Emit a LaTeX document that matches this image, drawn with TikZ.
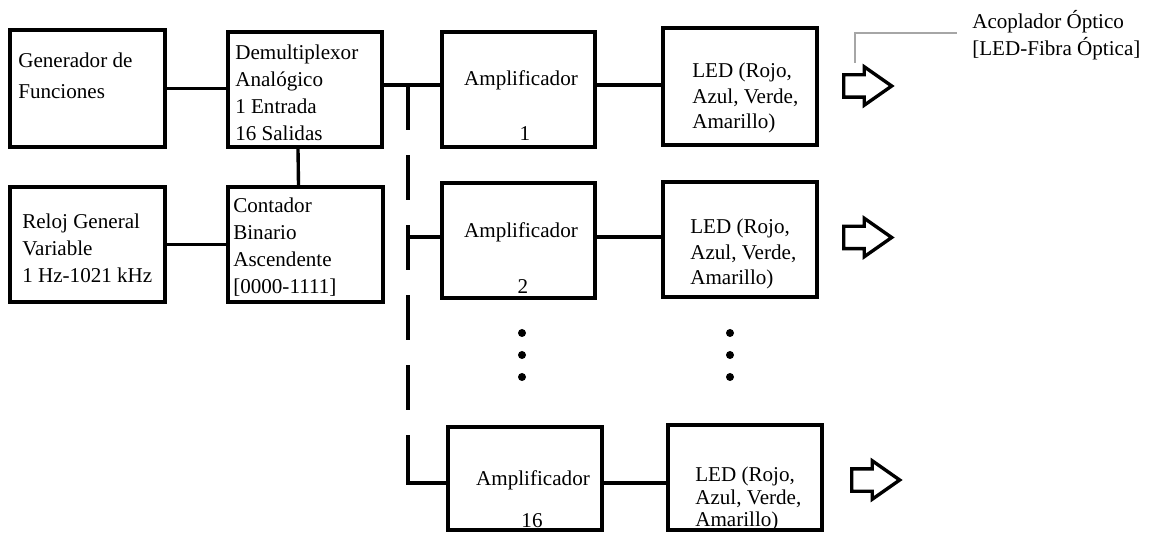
\documentclass[tikz,border=0pt]{standalone}
\usepackage{fontspec}
\setmainfont{Liberation Serif}
\newfontfamily\blkfont{Liberation Serif}
\usetikzlibrary{positioning,shapes.arrows}
\def\px{0.025cm}

\begin{document}
\begin{tikzpicture}[x=0.025cm,y=-0.025cm,
	blk/.style={draw,line width=2.6pt,minimum width=154*\px,minimum height=115*\px,inner sep=0pt},
	txt/.style={align=left,inner sep=0pt,anchor=north west,font=\blkfont\fontsize{15}{19}\selectfont},
	ledtxt/.style={txt,font=\blkfont\fontsize{15}{18}\selectfont},
	ctr/.style={inner sep=0pt,anchor=base,font=\blkfont\fontsize{15}{19}\selectfont},
	wire/.style={line width=2.4pt},
	outarr/.style={single arrow,draw,line width=2.4pt,inner sep=9.5*\px,minimum height=48*\px,
		single arrow head extend=8*\px,single arrow tip angle=70,anchor=tail}]
	\useasboundingbox (0,0) rectangle (1151,543);
	
	% bloques
	\node[blk,minimum width=155*\px,minimum height=117*\px] (gen) at (87.5,88.5) {};
	\node[blk] (demux) at (305,89.5) {};
	\node[blk,minimum width=155*\px] (reloj) at (87.5,244.5) {};
	\node[blk,minimum width=155*\px] (cont) at (305.5,244.5) {};
	\node[blk,minimum width=153*\px] (a1) at (518.5,89.5) {};
	\node[blk,minimum width=153*\px] (a2) at (518.5,240.5) {};
	\node[blk,minimum height=103*\px] (a16) at (525,478.5) {};
	\node[blk,minimum height=117*\px] (l1) at (740,86.5) {};
	\node[blk] (l2) at (740,239.5) {};
	\node[blk,minimum height=105*\px] (l16) at (745,477.5) {};
	
	% textos
	\node[txt] (genT) at (18,53) {Generador de\\[3pt]Funciones};
	\node[txt] (demuxT) at (235,45) {Demultiplexor\\Analógico\\1 Entrada\\16 Salidas};
	\node[txt] (relojT) at (22,214) {Reloj General\\Variable\\1 Hz-1021 kHz};
	\node[txt] (contT) at (233,198) {Contador\\Binario\\Ascendente\\{[0000-1111]}};
	\node[ctr] (a1T) at (521,86) {Amplificador};
	\node[ctr] (a1N) at (525,141) {1};
	\node[ctr] (a2T) at (521,238) {Amplificador};
	\node[ctr] (a2N) at (523,294) {2};
	\node[ctr] (a16T) at (533,485) {Amplificador};
	\node[ctr] (a16N) at (532,527) {16};
	\node[ledtxt] (l1T) at (692,63) {LED (Rojo,\\Azul, Verde,\\Amarillo)};
	\node[ledtxt] (l2T) at (690,219) {LED (Rojo,\\Azul, Verde,\\Amarillo)};
	\node[ledtxt,font=\blkfont\fontsize{15}{16}\selectfont] (l16T) at (695,467) {LED (Rojo,\\Azul, Verde,\\Amarillo)};
	\node[txt] (acop) at (972,10) {Acoplador Óptico\\{[LED-Fibra Óptica]}};
	
	% conexiones
	\coordinate (b1) at (408,85);
	\coordinate (b2) at (408,237);
	\coordinate (bk) at (408,437);
	\coordinate (b16) at (408,483);
	\draw[wire] (gen.east) -- (gen.east -| demux.west);
	\draw[wire] ([xshift=-7*\px]demux.south) -- ([xshift=-7*\px]cont.north);
	\draw[wire] (reloj.east) -- (reloj.east -| cont.west);
	\draw[wire] (demux.east |- b1) -- (a1.west |- b1);
	\draw[wire] (a1.east |- b1) -- (l1.west |- b1);
	\draw[wire,dash pattern=on 1.125cm off 0.625cm] (b1) -- (bk);
	\draw[wire] (bk) -- (b16) -- (b16 -| a16.west);
	\draw[wire] (b2) -- (b2 -| a2.west);
	\draw[wire] (a2.east |- b2) -- (l2.west |- b2);
	\draw[wire] (a16.east |- b16) -- (l16.west |- b16);
	
	% flechas de salida
	\node[outarr] (o1) at (842,86) {};
	\node[outarr] (o2) at (842,237.5) {};
	\node[outarr] (o3) at (850,480) {};
	\coordinate (k1) at (855,63);
	\coordinate (k2) at (957,33);
	\draw[gray!70,line width=1pt] (k1) |- (k2);
	
	% puntos
	\foreach \y in {333,355,377}{
		\fill (522,\y) circle (0.1cm);
		\fill (730,\y) circle (0.1cm);
	}
\end{tikzpicture}
\end{document}
